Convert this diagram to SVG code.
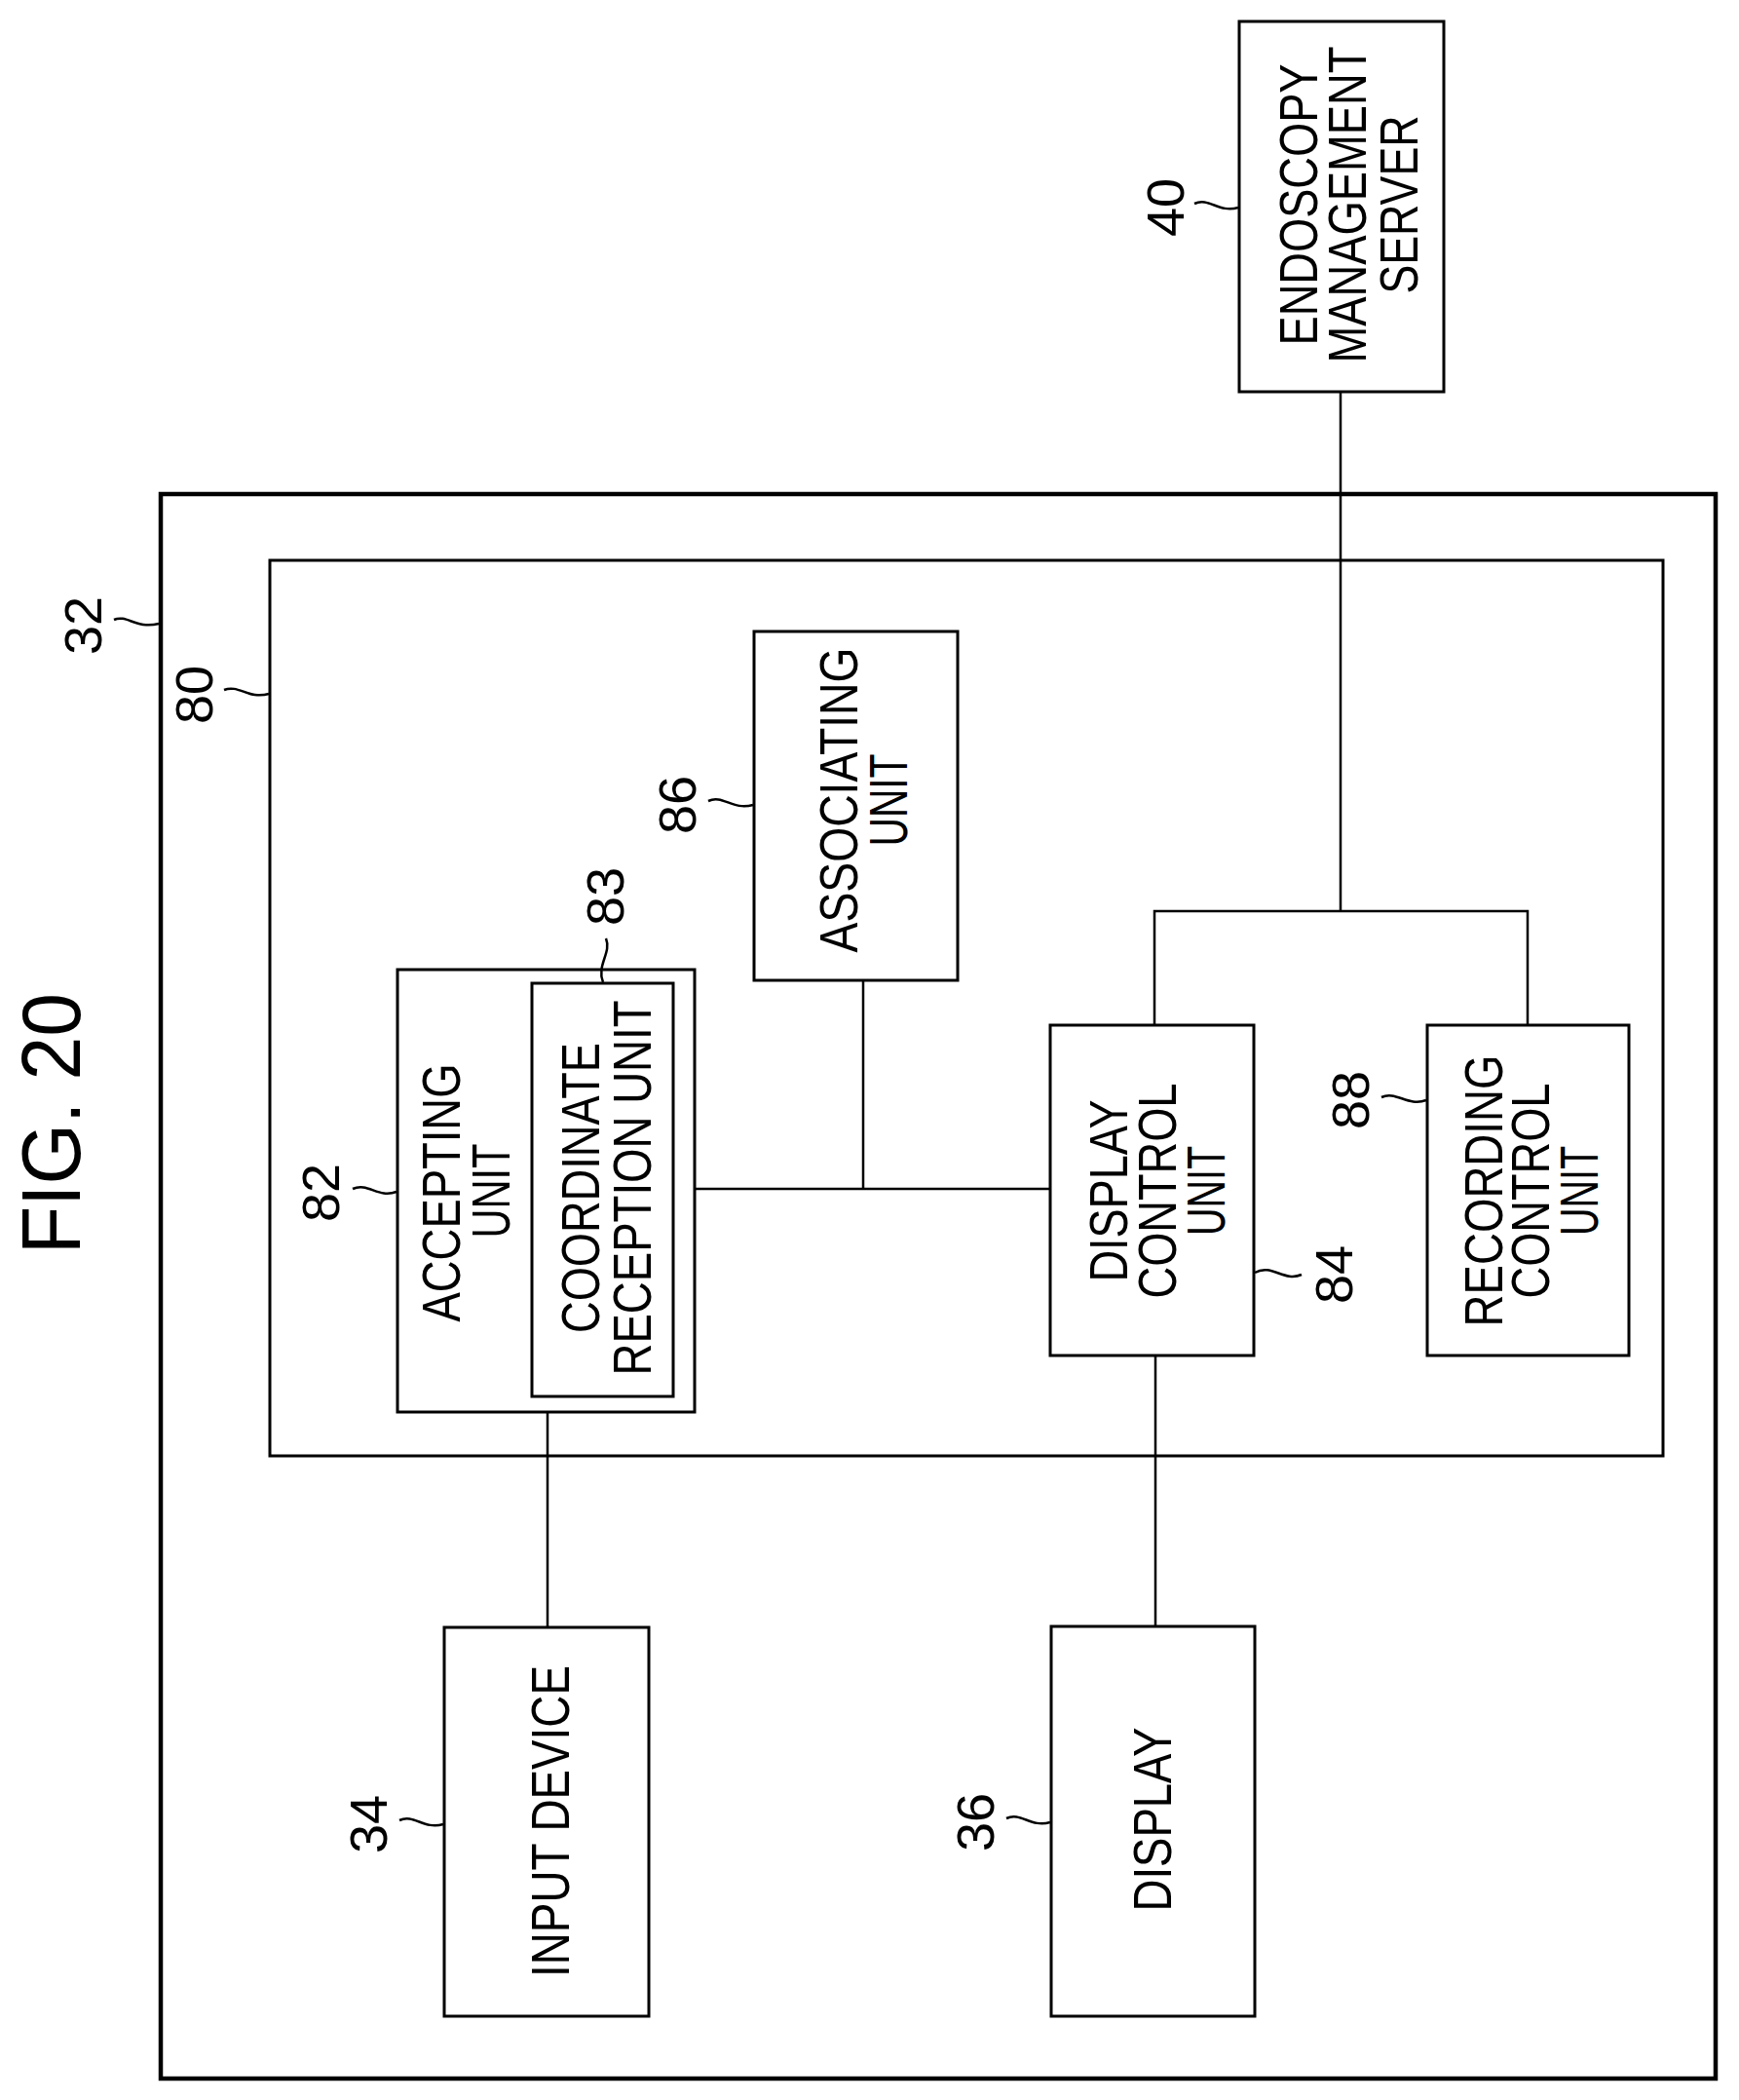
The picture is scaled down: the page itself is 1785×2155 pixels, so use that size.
<svg xmlns="http://www.w3.org/2000/svg" width="1785" height="2155" viewBox="0 0 1785 2155">
<style>
.b{fill:none;stroke:#000;stroke-width:3}
.o{fill:none;stroke:#000;stroke-width:4.5}
.c{fill:none;stroke:#000;stroke-width:2.5}
.t{font-family:"Liberation Sans",Arial,sans-serif;font-size:56px;text-anchor:middle;fill:#000}
.n{font-family:"Liberation Sans",Arial,sans-serif;font-size:54px;text-anchor:middle;fill:#000}
</style>
<rect width="1785" height="2155" fill="#fff"/>
<text class="t" style="font-size:86px" transform="translate(82,1153) rotate(-90)" textLength="268" lengthAdjust="spacingAndGlyphs">FIG. 20</text>

<g id="n32"><rect class="o" x="165" y="507" width="1596" height="1626"/>
<text class="n" transform="translate(104,642) rotate(-90)">32</text>
<path class="c" d="M117,636 C130,630 140,646 163,640"/></g>

<g id="n80"><rect class="b" x="277" y="575" width="1430" height="919"/>
<text class="n" transform="translate(218,713) rotate(-90)">80</text>
<path class="c" d="M230,708 C245,702 255,718 276,712"/></g>

<g id="n82"><rect class="b" x="408" y="995" width="305" height="454"/>
<text class="t" transform="translate(472,1224) rotate(-90)" textLength="265" lengthAdjust="spacingAndGlyphs">ACCEPTING</text>
<text class="t" transform="translate(523,1222) rotate(-90)" textLength="97" lengthAdjust="spacingAndGlyphs">UNIT</text>
<text class="n" transform="translate(348,1224) rotate(-90)">82</text>
<path class="c" d="M362,1220 C378,1213 388,1230 407,1223"/></g>

<g id="n83"><rect class="b" x="546" y="1009" width="145" height="424"/>
<text class="t" transform="translate(615,1219) rotate(-90)" textLength="298" lengthAdjust="spacingAndGlyphs">COORDINATE</text>
<text class="t" transform="translate(668,1219) rotate(-90)" textLength="385" lengthAdjust="spacingAndGlyphs">RECEPTION UNIT</text>
<text class="n" transform="translate(640,920) rotate(-90)">83</text>
<path class="c" d="M622,963 C628,978 612,990 619,1008"/></g>

<g id="n86"><rect class="b" x="774" y="648" width="209" height="358"/>
<text class="t" transform="translate(880,821) rotate(-90)" textLength="313" lengthAdjust="spacingAndGlyphs">ASSOCIATING</text>
<text class="t" transform="translate(931,821) rotate(-90)" textLength="95" lengthAdjust="spacingAndGlyphs">UNIT</text>
<text class="n" transform="translate(714,826) rotate(-90)">86</text>
<path class="c" d="M727,822 C742,815 752,832 773,826"/></g>

<g id="n84"><rect class="b" x="1078" y="1052" width="209" height="339"/>
<text class="t" transform="translate(1157,1222) rotate(-90)" textLength="187" lengthAdjust="spacingAndGlyphs">DISPLAY</text>
<text class="t" transform="translate(1207,1222) rotate(-90)" textLength="221" lengthAdjust="spacingAndGlyphs">CONTROL</text>
<text class="t" transform="translate(1257,1222) rotate(-90)" textLength="92" lengthAdjust="spacingAndGlyphs">UNIT</text>
<text class="n" transform="translate(1388,1308) rotate(-90)">84</text>
<path class="c" d="M1288,1306 C1305,1296 1318,1316 1336,1308"/></g>

<g id="n88"><rect class="b" x="1465" y="1052" width="207" height="339"/>
<text class="t" transform="translate(1542,1222) rotate(-90)" textLength="279" lengthAdjust="spacingAndGlyphs">RECORDING</text>
<text class="t" transform="translate(1590,1222) rotate(-90)" textLength="221" lengthAdjust="spacingAndGlyphs">CONTROL</text>
<text class="t" transform="translate(1640,1222) rotate(-90)" textLength="92" lengthAdjust="spacingAndGlyphs">UNIT</text>
<text class="n" transform="translate(1405,1129) rotate(-90)">88</text>
<path class="c" d="M1418,1126 C1433,1119 1445,1136 1464,1129"/></g>

<g id="n34"><rect class="b" x="456" y="1670" width="210" height="399"/>
<text class="t" transform="translate(584,1869) rotate(-90)" textLength="320" lengthAdjust="spacingAndGlyphs">INPUT DEVICE</text>
<text class="n" transform="translate(397,1872) rotate(-90)">34</text>
<path class="c" d="M410,1868 C425,1861 435,1878 455,1872"/></g>

<g id="n36"><rect class="b" x="1079" y="1669" width="209" height="400"/>
<text class="t" transform="translate(1202,1867) rotate(-90)" textLength="189" lengthAdjust="spacingAndGlyphs">DISPLAY</text>
<text class="n" transform="translate(1020,1870) rotate(-90)">36</text>
<path class="c" d="M1033,1866 C1048,1859 1058,1876 1078,1870"/></g>

<g id="n40"><rect class="b" x="1272" y="22" width="210" height="380"/>
<text class="t" transform="translate(1352,210) rotate(-90)" textLength="289" lengthAdjust="spacingAndGlyphs">ENDOSCOPY</text>
<text class="t" transform="translate(1402,210) rotate(-90)" textLength="325" lengthAdjust="spacingAndGlyphs">MANAGEMENT</text>
<text class="t" transform="translate(1455,210) rotate(-90)" textLength="183" lengthAdjust="spacingAndGlyphs">SERVER</text>
<text class="n" transform="translate(1215,213) rotate(-90)">40</text>
<path class="c" d="M1226,209 C1241,202 1251,219 1271,213"/></g>

<g id="connectors" class="c">
<line x1="1376" y1="402" x2="1376" y2="935"/>
<polyline points="1185,1052 1185,935 1568,935 1568,1052"/>
<line x1="713" y1="1220" x2="1078" y2="1220"/>
<line x1="886" y1="1006" x2="886" y2="1220"/>
<line x1="562" y1="1449" x2="562" y2="1670"/>
<line x1="1186" y1="1391" x2="1186" y2="1669"/>
</g>
</svg>
